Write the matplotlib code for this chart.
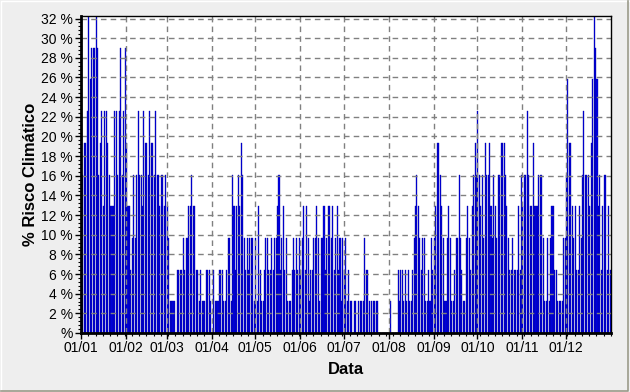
import numpy as np
import matplotlib
matplotlib.use("Agg")
import matplotlib.pyplot as plt
from matplotlib.ticker import FixedLocator, MultipleLocator, FuncFormatter
from matplotlib.lines import Line2D

# daily risk level, as number of "risk years" out of 31
jan = [5, 5, 6, 6, 7, 10, 8, 9, 9, 9, 10, 9, 5, 6, 7, 4, 7, 7, 6, 5, 4, 4, 4, 7, 7, 5, 7, 9, 5, 7, 9]
feb = [6, 4, 4, 2, 3, 5, 3, 5, 7, 5, 5, 4, 7, 6, 6, 5, 7, 6, 6, 5, 7, 5, 5, 4, 5, 5, 4, 5]
mar = [4, 3, 1, 1, 1, 1, 0, 2, 2, 2, 2, 3, 2, 3, 3, 4, 4, 5, 4, 4, 2, 2, 1, 2, 1, 1, 1, 2, 2, 2, 1]
apr = [0, 2, 1, 1, 1, 2, 2, 2, 1, 1, 2, 3, 3, 1, 5, 4, 2, 4, 5, 4, 6, 5, 3, 2, 3, 2, 3, 3, 3, 1]
may = [3, 1, 4, 2, 1, 1, 2, 3, 3, 2, 2, 3, 2, 3, 3, 4, 5, 2, 3, 4, 2, 3, 1, 1, 1, 2, 3, 2, 3, 2, 3]
jun = [2, 3, 4, 2, 4, 3, 1, 2, 2, 3, 3, 4, 3, 1, 3, 3, 4, 2, 3, 4, 4, 3, 4, 2, 3, 4, 2, 3, 1, 3]
jul = [2, 3, 1, 2, 1, 1, 0, 1, 1, 0, 1, 1, 1, 1, 3, 2, 2, 1, 0, 1, 1, 1, 1, 1, 0, 0, 0, 0, 0, 0, 0]
aug = [0, 1, 0, 0, 0, 0, 2, 1, 2, 2, 1, 2, 1, 2, 1, 1, 2, 3, 4, 5, 4, 3, 2, 3, 3, 1, 1, 2, 1, 3, 2]
sep = [3, 4, 6, 6, 5, 4, 3, 1, 1, 3, 4, 3, 1, 1, 2, 3, 3, 5, 3, 2, 1, 1, 3, 4, 3, 2, 4, 5, 6, 5]
oct_ = [7, 5, 4, 5, 3, 6, 5, 5, 6, 4, 3, 5, 4, 3, 5, 5, 6, 6, 6, 5, 4, 3, 2, 2, 3, 2, 2, 2, 4, 2, 5]
nov = [4, 5, 5, 7, 5, 4, 4, 6, 4, 4, 4, 5, 5, 5, 3, 1, 1, 3, 1, 3, 4, 4, 2, 2, 1, 1, 1, 1, 3, 3]
dec = [5, 8, 6, 6, 4, 3, 4, 2, 2, 4, 3, 5, 7, 5, 5, 5, 4, 6, 8, 10, 9, 8, 4, 5, 2, 4, 5, 5, 2, 4, 2]
N_YEARS = 31

month_labels = ["01/01", "01/02", "01/03", "01/04", "01/05", "01/06",
                "01/07", "01/08", "01/09", "01/10", "01/11", "01/12"]

months = [jan, feb, mar, apr, may, jun, jul, aug, sep, oct_, nov, dec]
levels = np.concatenate([np.array(m, dtype=float) for m in months])
risk = levels / N_YEARS * 100
days = np.arange(len(risk))
month_starts = np.cumsum([0] + [len(m) for m in months[:-1]])

BG = "#eeeeee"
BLUE = "#0000e6"
NAVY = "#00009a"

plt.rcParams["font.family"] = ["Liberation Sans", "DejaVu Sans"]

fig = plt.figure(figsize=(6.3, 3.92), dpi=100, facecolor=BG)
ax = fig.add_axes([81 / 630, 1 - 333 / 392, 530 / 630, 317 / 392])
ax.set_facecolor("white")

ax.bar(days, risk, width=0.72, align="edge", color=BLUE, edgecolor=NAVY,
       linewidth=0.25, zorder=1)

ax.set_xlim(0, len(risk))
ax.set_ylim(0, 100 * 10 / N_YEARS)

ax.xaxis.set_major_locator(FixedLocator(month_starts))
ax.set_xticklabels(month_labels)
ax.xaxis.set_minor_locator(MultipleLocator(5))
ax.yaxis.set_major_locator(MultipleLocator(2))
ax.yaxis.set_minor_locator(MultipleLocator(0.4))
ax.yaxis.set_major_formatter(FuncFormatter(lambda v, p: "%" if v == 0 else f"{v:.0f} %"))

ax.tick_params(axis="both", which="major", labelsize=10, length=4, width=1,
               color="black", labelcolor="black", pad=2)
ax.tick_params(axis="both", which="minor", length=2, width=0.8, color="black")

ax.grid(True, which="major", color="#808080", linestyle=(0, (4, 3)), linewidth=1)
ax.set_axisbelow(False)

for side in ["top", "right"]:
    ax.spines[side].set_linewidth(1)
for side in ["left", "bottom"]:
    ax.spines[side].set_linewidth(2)
for sp in ax.spines.values():
    sp.set_zorder(5)

ax.set_xlabel("Data", fontsize=12, fontweight="bold", labelpad=5)
ax.set_ylabel("% Risco Climático", fontsize=12, fontweight="bold")
ax.yaxis.set_label_coords(-0.082, 0.5)

# window-style frame around the picture
fig.add_artist(Line2D([0.5 / 630, 0.5 / 630, 629 / 630], [0.5 / 392, 391 / 392, 391 / 392],
                      transform=fig.transFigure, color="white", lw=1))
fig.add_artist(Line2D([1 / 630, 628 / 630, 628 / 630], [1.5 / 392, 1.5 / 392, 391 / 392],
                      transform=fig.transFigure, color="#9a9a8a", lw=1.2))

fig.savefig("out.png", dpi=100, facecolor=BG)
